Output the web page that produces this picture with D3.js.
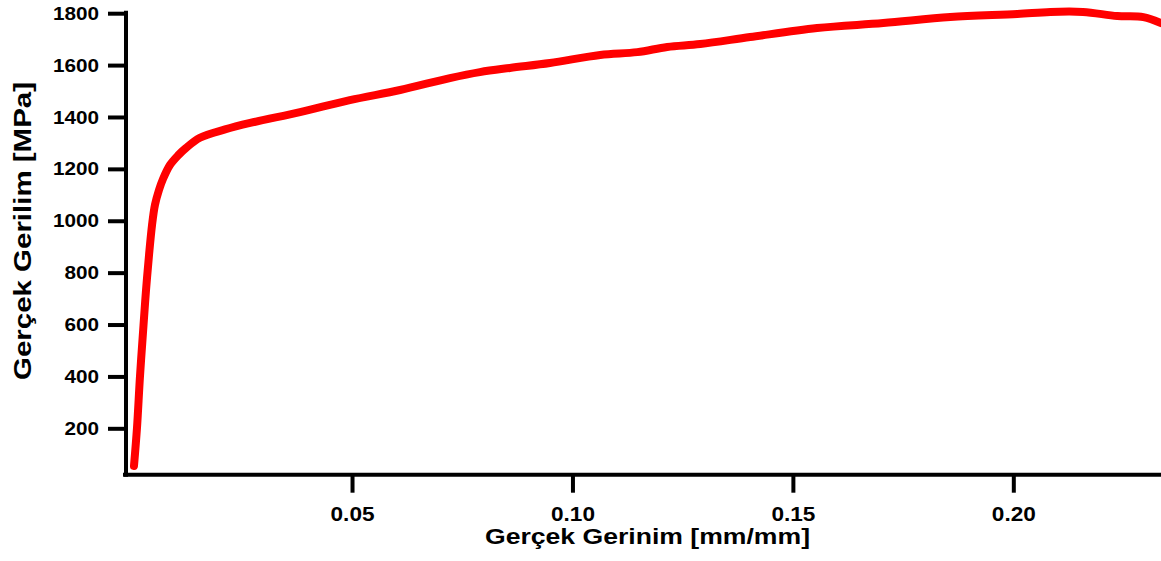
<!DOCTYPE html>
<html>
<head>
<meta charset="utf-8">
<script src="https://cdn.jsdelivr.net/npm/d3@7"></script>
<style>
  html, body { margin: 0; padding: 0; background: #fff; }
  svg { display: block; }
  text { font-family: "Liberation Sans", Arial, sans-serif; font-weight: bold; fill: #000; }
</style>
</head>
<body>
<svg id="chart" width="1161" height="561"></svg>
<script>
// Data (true strain [mm/mm], true stress [MPa])
const strain = [0.00054, 0.00122, 0.0019, 0.0027, 0.00327, 0.00395, 0.00463, 0.0053, 0.00622, 0.00712,
  0.0087, 0.0106, 0.0123, 0.0155, 0.0212, 0.0269, 0.0382, 0.0495, 0.0609, 0.0722,
  0.079, 0.0858, 0.0949, 0.1063, 0.1147, 0.1215, 0.129, 0.1403, 0.1555, 0.1705,
  0.1857, 0.2009, 0.2084, 0.2158, 0.2236, 0.2295, 0.2335];
const stress = [55, 201, 400, 597, 732, 867, 983, 1061, 1119, 1161,
  1215, 1253, 1280, 1320, 1352, 1377, 1419, 1465, 1504, 1550,
  1573, 1589, 1608, 1639, 1650, 1670, 1681, 1708, 1743, 1762,
  1785, 1797, 1805, 1805, 1789, 1785, 1762];
const xTicks = [0.05, 0.10, 0.15, 0.20];
const yTicks = [200, 400, 600, 800, 1000, 1200, 1400, 1600, 1800];
const xTitle = "Gerçek Gerinim [mm/mm]";
const yTitle = "Gerçek Gerilim [MPa]";

const svg = d3.select("#chart");
const x = d3.scaleLinear().domain([-0.00127, 0.2335]).range([126, 1161]);
const y = d3.scaleLinear().domain([21.2, 1800]).range([474.7, 13.2]);

// curve
const pts = strain.map((s, i) => [s, stress[i]]);
svg.append("path")
  .datum(pts)
  .attr("fill", "none")
  .attr("stroke", "#ff0000")
  .attr("stroke-width", 8)
  .attr("stroke-linecap", "round")
  .attr("stroke-linejoin", "round")
  .attr("d", d3.line().x(d => x(d[0])).y(d => y(d[1])).curve(d3.curveCatmullRom.alpha(0.5)));

function stretch(sel, factor) {
  sel.each(function () {
    const w = this.getComputedTextLength();
    d3.select(this).attr("textLength", w * factor).attr("lengthAdjust", "spacingAndGlyphs");
  });
}

// x axis
const xAxis = svg.append("g").attr("transform", `translate(0,${y.range()[0]})`)
  .call(d3.axisBottom(x).tickValues(xTicks).tickFormat(d3.format(".2f")).tickSize(18).tickPadding(14));
xAxis.select(".domain").attr("stroke-width", 4).attr("d", `M${x.range()[0]-3},0H${x.range()[1]+5}`);
xAxis.selectAll(".tick line").attr("stroke-width", 4);
xAxis.selectAll(".tick text").attr("font-size", 20).attr("font-weight", "bold")
  .attr("font-family", "Liberation Sans, Arial, sans-serif").call(stretch, 1.13);

// y axis
const yAxis = svg.append("g").attr("transform", `translate(${x.range()[0]},0)`)
  .call(d3.axisLeft(y).tickValues(yTicks).tickFormat(d3.format("d")).tickSize(18).tickPadding(9));
yAxis.select(".domain").attr("stroke-width", 4).attr("d", `M0,${y.range()[1]-2.5}V${y.range()[0]+2}`);
yAxis.selectAll(".tick line").attr("stroke-width", 4);
yAxis.selectAll(".tick text").attr("font-size", 19).attr("font-weight", "bold")
  .attr("font-family", "Liberation Sans, Arial, sans-serif").call(stretch, 1.09);

// titles
svg.append("text")
  .attr("x", 647.5).attr("y", 544)
  .attr("text-anchor", "middle")
  .attr("font-size", 22.5)
  .attr("textLength", 325).attr("lengthAdjust", "spacingAndGlyphs")
  .text(xTitle);
svg.append("text")
  .attr("transform", "translate(31,231) rotate(-90)")
  .attr("text-anchor", "middle")
  .attr("font-size", 24)
  .attr("textLength", 298).attr("lengthAdjust", "spacingAndGlyphs")
  .text(yTitle);
</script>
</body>
</html>
